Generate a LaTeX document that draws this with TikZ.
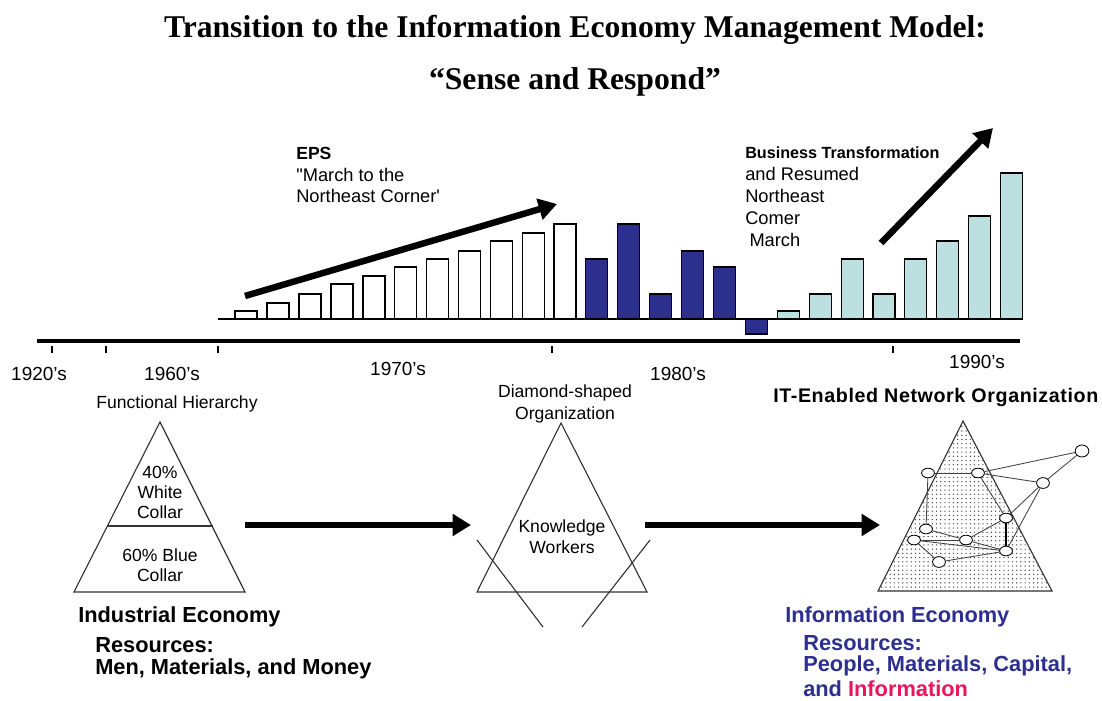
\documentclass[tikz,border=0pt]{standalone}
\usepackage{fontspec}
\setmainfont{Liberation Sans}
\newfontfamily\titlefont{Liberation Serif}
\newfontfamily\plainsans{Liberation Sans}
\usepackage{tikz}
\usetikzlibrary{arrows.meta,patterns,shapes.geometric}
\definecolor{barblue}{RGB}{45,47,143}
\definecolor{barcyan}{RGB}{188,223,224}
\definecolor{infored}{RGB}{232,22,92}

\begin{document}
\begin{tikzpicture}[x=0.025cm,y=-0.025cm,
    bar/.style={draw=black,line width=0.8pt},
    bigarrow/.style={line width=4.6pt,-{Triangle[length=13pt,width=15pt]}},
    tri/.style={draw=black!80,line width=0.8pt},
    netnode/.style={ellipse,draw,fill=white,line width=0.6pt,minimum width=0.32cm,minimum height=0.24cm,inner sep=0pt},
    netline/.style={black!75,line width=0.6pt}]
            \tikzstyle{every node}=[font=\fontsize{12.5}{15}\selectfont,inner sep=0pt]
            \useasboundingbox (0,0) rectangle (1102,701);
            \node (title1) [font=\titlefont\bfseries\fontsize{22.5}{27}\selectfont] at (575,30) {Transition to the Information Economy Management Model:};
            \node (title2) [font=\titlefont\bfseries\fontsize{22.5}{27}\selectfont] at (575,82) {“Sense and Respond”};
            \draw[bar] (235,319) rectangle (257,311);
            \draw[bar] (267,319) rectangle (289,303);
            \draw[bar] (299,319) rectangle (321,294);
            \draw[bar] (331,319) rectangle (353,284);
            \draw[bar] (363,319) rectangle (385,276);
            \draw[bar] (394.5,319) rectangle (416.5,267);
            \draw[bar] (426.4,319) rectangle (448.4,259);
            \draw[bar] (458.3,319) rectangle (480.3,251);
            \draw[bar] (490.2,319) rectangle (512.2,241);
            \draw[bar] (522.1,319) rectangle (544.1,233);
            \draw[bar] (554,319) rectangle (576,224);
            \draw[bar,fill=barblue] (585.9,319) rectangle (607.9,259);
            \draw[bar,fill=barblue] (617.8,319) rectangle (639.8,224);
            \draw[bar,fill=barblue] (649.7,319) rectangle (671.7,294);
            \draw[bar,fill=barblue] (681.6,319) rectangle (703.6,251);
            \draw[bar,fill=barblue] (713.5,319) rectangle (735.5,267);
            \draw[bar,fill=barblue] (745.4,319) rectangle (767.4,334);
            \draw[bar,fill=barcyan] (777.3,319) rectangle (799.3,311);
            \draw[bar,fill=barcyan] (809.2,319) rectangle (831.2,294);
            \draw[bar,fill=barcyan] (841.1,319) rectangle (863.1,259);
            \draw[bar,fill=barcyan] (873,319) rectangle (895,294);
            \draw[bar,fill=barcyan] (904.9,319) rectangle (926.9,259);
            \draw[bar,fill=barcyan] (936.8,319) rectangle (958.8,241);
            \draw[bar,fill=barcyan] (968.7,319) rectangle (990.7,216);
            \draw[bar,fill=barcyan] (1000.6,319) rectangle (1022.6,173);
            \draw[line width=1.2pt] (218,319) -- (1022,319);
            \draw[line width=3.2pt] (37,341) -- (1020,341);
            \draw[line width=0.8pt] (52,346) -- (52,353);
            \draw[line width=0.8pt] (106,346) -- (106,353);
            \draw[line width=0.8pt] (218,346) -- (218,353);
            \draw[line width=0.8pt] (552,346) -- (552,353);
            \draw[line width=0.8pt] (893,346) -- (893,353);
            \node (y1920) [font=\fontsize{13.5}{16}\selectfont] at (39,374) {1920's};
            \node (y1960) [font=\fontsize{13.5}{16}\selectfont] at (172,374) {1960's};
            \node (y1970) [font=\fontsize{13.5}{16}\selectfont] at (398,369) {1970's};
            \node (y1980) [font=\fontsize{13.5}{16}\selectfont] at (678,374) {1980's};
            \node (y1990) [font=\fontsize{13.5}{16}\selectfont] at (977,362) {1990's};
            \node (epstext) [anchor=north west,align=left,font=\fontsize{13}{15.3}\selectfont] at (296,147) {{\fontsize{12.5}{15.3}\selectfont\bfseries EPS}\\{\plainsans"}March to the\\Northeast Corner{\plainsans'}};
            \coordinate (epsstart) at (245,296);
            \coordinate (epsend) at (557,204);
            \draw[bigarrow] (epsstart) -- (epsend);
            \node (biztext) [anchor=north west,align=left,font=\fontsize{13}{15.6}\selectfont] at (745,147) {{\fontsize{11.5}{15.6}\selectfont\bfseries Business Transformation}\\and Resumed\\Northeast\\Comer\\\hspace{3pt}March};
            \coordinate (bizstart) at (881,243);
            \coordinate (bizend) at (993,128);
            \draw[bigarrow] (bizstart) -- (bizend);
            \node (funchier) at (177,404) {Functional Hierarchy};
            \draw[tri] (160,422) -- (245,592) -- (74,592) -- cycle;
            \draw[tri] (107.4,526) -- (212.6,526);
            \node (white) [align=center,font=\fontsize{12.5}{14.2}\selectfont] at (160,492) {40\%\\White\\Collar};
            \node (blue) [align=center,font=\fontsize{12.5}{14.2}\selectfont] at (160,565) {60\% Blue\\Collar};
            \coordinate (arrowonestart) at (245,525);
            \coordinate (arrowoneend) at (471,525);
            \draw[bigarrow] (arrowonestart) -- (arrowoneend);
            \node (diamond) [align=center,font=\fontsize{12.5}{15.5}\selectfont] at (565,404) {Diamond-shaped\\Organization};
            \draw[tri] (561,423) -- (647,592) -- (477,592) -- cycle;
            \draw[tri] (477,540) -- (543,627);
            \draw[tri] (650,540) -- (582,627);
            \node (knowledge) [align=center,font=\fontsize{12.5}{15}\selectfont] at (562,537) {Knowledge\\Workers};
            \coordinate (arrowtwostart) at (645,525);
            \coordinate (arrowtwoend) at (880,525);
            \draw[bigarrow] (arrowtwostart) -- (arrowtwoend);
            \node (itnet) [anchor=west,font=\fontsize{14}{16}\selectfont\bfseries\addfontfeature{LetterSpace=3}] at (773,397) {IT-Enabled Network Organization};
            \fill[pattern=dots,pattern color=black!75] (963,421) -- (1052,591) -- (878,591) -- cycle;
            \draw[tri] (963,421) -- (1052,591) -- (878,591) -- cycle;
            \node (na) [netnode] at (928,473) {};
            \node (nb) [netnode] at (978,473) {};
            \node (nc) [netnode,minimum width=0.34cm,minimum height=0.3cm] at (1082,451) {};
            \node (nd) [netnode,minimum height=0.27cm] at (1043,483) {};
            \node (ne) [netnode] at (1006,518) {};
            \node (nf) [netnode] at (926,529) {};
            \node (ng) [netnode] at (914,540) {};
            \node (nh) [netnode] at (966,540) {};
            \node (ni) [netnode] at (1006,551) {};
            \node (nj) [netnode,minimum height=0.27cm] at (939,562) {};
            \draw[netline] (na) -- (nb);
            \draw[netline] (nb) -- (nc);
            \draw[netline] (nb) -- (nd);
            \draw[netline] (nc) -- (nd);
            \draw[netline] (nd) -- (ne);
            \draw[netline] (nd) -- (ni);
            \draw[netline] (nb) -- (ne);
            \draw[netline] (na) -- (nf);
            \draw[line width=1.1pt] (ne) -- (ni);
            \draw[netline] (ne) -- (nh);
            \draw[netline] (nf) -- (nh);
            \draw[netline] (ng) -- (nh);
            \draw[netline] (ng) -- (ni);
            \draw[netline] (nh) -- (ni);
            \draw[netline] (ng) -- (nj);
            \draw[netline] (nj) -- (ni);
            \node (indecon) [anchor=west,font=\fontsize{15.5}{18}\selectfont\bfseries] at (78,617) {Industrial Economy};
            \node (indres) [anchor=west,font=\fontsize{15.5}{18}\selectfont\bfseries] at (95,645) {Resources:};
            \node (indlist) [anchor=west,font=\fontsize{15.5}{18}\selectfont\bfseries] at (95,669) {Men, Materials, and Money};
            \node (infecon) [anchor=west,text=barblue,font=\fontsize{15.5}{18}\selectfont\bfseries] at (785,617) {Information Economy};
            \node (infres) [anchor=west,text=barblue,font=\fontsize{15.5}{18}\selectfont\bfseries] at (803,643) {Resources:};
            \node (inflist) [anchor=west,text=barblue,font=\fontsize{15.5}{18}\selectfont\bfseries] at (803,666) {People, Materials, Capital,};
            \node (infinfo) [anchor=west,text=barblue,font=\fontsize{15.5}{18}\selectfont\bfseries] at (803,689) {and \textcolor{infored}{Information}};
        \end{tikzpicture}
\end{document}
